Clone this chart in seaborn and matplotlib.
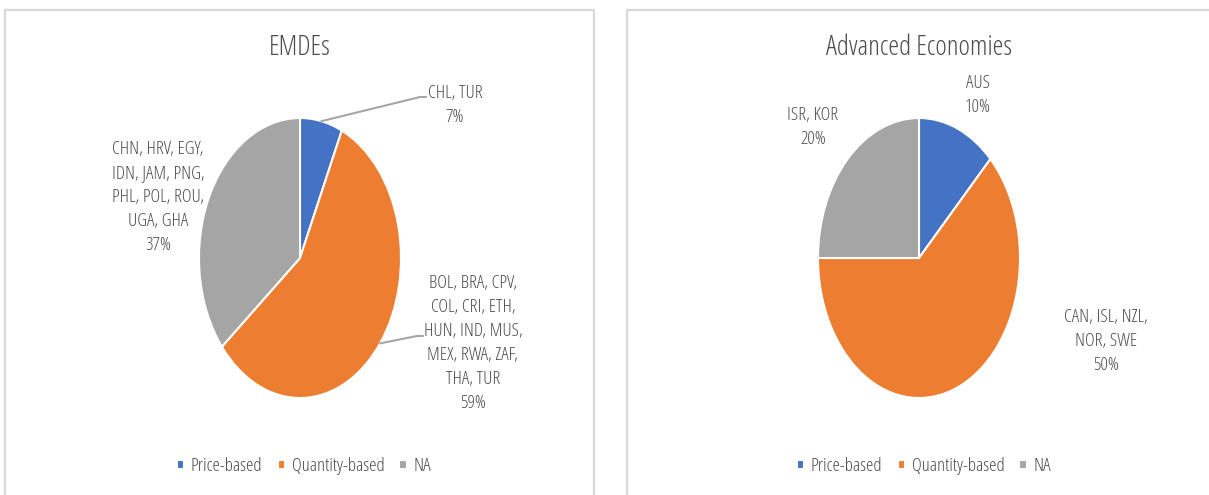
import numpy as np
import matplotlib
matplotlib.use("Agg")
import matplotlib.pyplot as plt
from matplotlib.patches import Rectangle
from matplotlib.font_manager import FontProperties
import seaborn as sns

# data
categories = ["Price-based", "Quantity-based", "NA"]
emde_values = [7, 59, 37]
emde_countries = [
    "CHL, TUR",
    "BOL, BRA, CPV,\nCOL, CRI, ETH,\nHUN, IND, MUS,\nMEX, RWA, ZAF,\nTHA, TUR",
    "CHN, HRV, EGY,\nIDN, JAM, PNG,\nPHL, POL, ROU,\nUGA, GHA",
]
adv_values = [10, 50, 20]
adv_countries = ["AUS", "CAN, ISL, NZL,\nNOR, SWE", "ISR, KOR"]

sns.set_theme(style="white")
plt.rcParams["font.family"] = ["Open Sans", "DejaVu Sans"]
colors = ["#4472C4", "#ED7D31", "#A5A5A5"]
text_c = "#4d4d4d"


def font(size):
    return FontProperties(family="Open Sans", stretch="condensed", weight=300, size=size)


W, H = 1209, 495
fig = plt.figure(figsize=(W / 100, H / 100), dpi=100)


def fx(x):
    return x / W


def fy(y):
    return 1 - y / H


# panel frames
for x0, x1 in [(5, 594), (627, 1216)]:
    fig.add_artist(Rectangle((fx(x0), fy(505)), fx(x1 - x0), (505 - 10) / H,
                             transform=fig.transFigure, fill=False,
                             edgecolor="#D9D9D9", lw=1.6))


def draw_pie(cx, title, values, countries, label_pos, leaders, leg_x):
    rx, ry = 101, 140
    ax = fig.add_axes([fx(cx - rx), fy(258 + ry), fx(2 * rx), 2 * ry / H])
    wedges, _ = ax.pie(values, colors=colors, startangle=90, counterclock=False,
                       wedgeprops=dict(edgecolor="white", linewidth=1.5))
    ax.set_aspect("auto")
    ax.set_xlim(-1, 1)
    ax.set_ylim(-1, 1)
    ax.axis("off")
    fig.text(fx(cx), fy(48), title, ha="center", va="center",
             fontproperties=font(19.8), color=text_c)
    total = sum(values)
    start = 0.0
    for i, (v, c) in enumerate(zip(values, countries)):
        mid = np.deg2rad((start + v / 2 / total * 360))
        start += v / total * 360
        x, y = label_pos[i]
        fig.text(fx(x), fy(y), f"{c}\n{v}%", ha="center", va="center",
                 fontproperties=font(13.4), color=text_c, linespacing=1.43)
        if leaders[i] is not None:
            (ex, ey), (tx, ty) = leaders[i]
            edge = (np.sin(mid), np.cos(mid))
            ax.annotate("", xy=edge, xycoords="data",
                        xytext=(ex, H - ey), textcoords="figure pixels",
                        arrowprops=dict(arrowstyle="-", color="#A6A6A6", lw=1.5,
                                        shrinkA=0, shrinkB=0))
            ax.annotate("", xy=(tx, H - ty), xycoords="figure pixels",
                        xytext=(ex, H - ey), textcoords="figure pixels",
                        arrowprops=dict(arrowstyle="-", color="#A6A6A6", lw=1.5,
                                        shrinkA=0, shrinkB=0))
    fig.legend(wedges, categories, loc="center", bbox_to_anchor=(fx(leg_x), fy(466)),
               ncol=3, frameon=False, prop=font(13.6), handlelength=0.38,
               handleheight=0.38, handletextpad=0.35, columnspacing=0.8,
               labelcolor=text_c)


draw_pie(300, "EMDEs", emde_values, emde_countries,
         [(455, 105), (473, 343), (158, 197)],
         [((420, 97), (426, 97)), ((417, 336), (423, 336)), None],
         304)
draw_pie(919, "Advanced Economies", adv_values, adv_countries,
         [(978, 95), (1106, 341), (813, 127)],
         [None, None, None],
         924)

fig.savefig("out.png", dpi=100)
